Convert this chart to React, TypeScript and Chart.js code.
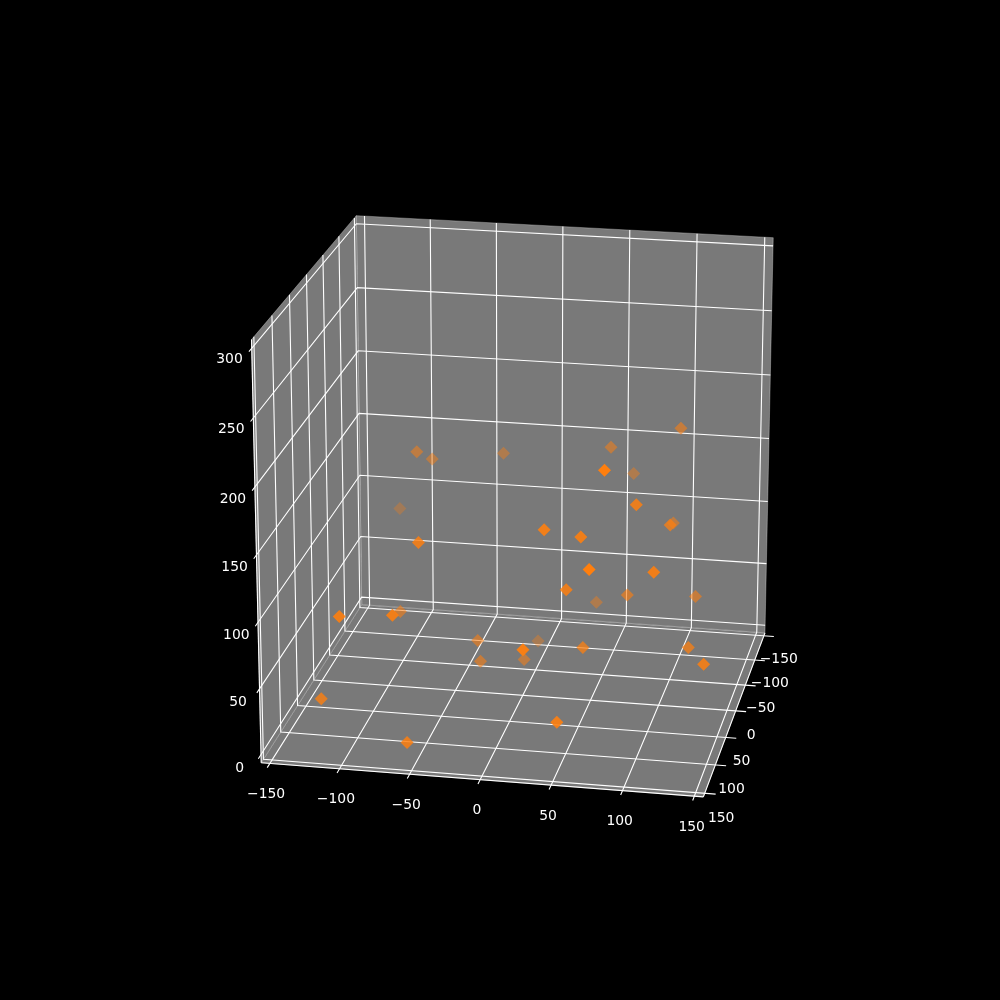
import React, { useEffect, useRef } from "react";
import { Chart, registerables } from "chart.js";
Chart.register(...registerables);

const xTicks = [-150, -100, -50, 0, 50, 100, 150];
const yTicks = [-150, -100, -50, 0, 50, 100, 150];
const zTicks = [0, 50, 100, 150, 200, 250, 300];
const pointX = [-85, -78, -31, -112, -54, 35, 53, 80, 64, 105, 93, 101, 111, 60, 74, 111, 49, 43, 78, 123, -100, -64, -85, -29, -26, 29, 1, -1, 56, 129, 146, -118, -53, 52];
const pointY = [-35, -55, -86, -97, 103, 104, -63, 122, -99, -57, 66, -53, 27, 100, 146, 99, 95, -63, 10, -19, 150, 143, 25, 21, 26, 150, 0, -65, 67, 53, 94, 133, 150, 146];
const pointZ = [165, 153, 150, 97, 147, 163, 168, 216, 136, 188, 172, 116, 144, 158, 152, 135, 116, 46, 82, 73, 106, 107, 63, 43, 29, 91, 22, 11, 62, 62, 67, 36, 15, 37];

const ELEV = 19.6, AZIM = -79.1, DIST = 10, L = 1.05, LZ = 1.042;
const CX = 522.8, CY = 494.5, S = 770 / 0.185;
const X0 = -156.25, X1 = 156.25, Z0 = -6.25, Z1 = 306.25;
const TICK = 7.6;
const el = (ELEV * Math.PI) / 180, az = (AZIM * Math.PI) / 180;
const w = [Math.cos(el) * Math.cos(az), Math.cos(el) * Math.sin(az), Math.sin(el)];
const uL = Math.hypot(w[0], w[1]);
const u = [-w[1] / uL, w[0] / uL, 0];
const v = [w[1] * u[2] - w[2] * u[1], w[2] * u[0] - w[0] * u[2], w[0] * u[1] - w[1] * u[0]];
const dot = (a: number[], b: number[]) => a[0] * b[0] + a[1] * b[1] + a[2] * b[2];
function view(x: number, y: number, z: number) {
  const p = [((x - X0) / (X1 - X0) - 0.5) * L, ((X1 - y) / (X1 - X0) - 0.5) * L, ((z - Z0) / (Z1 - Z0) - 0.5) * LZ];
  const d = [p[0] - DIST * w[0], p[1] - DIST * w[1], p[2] - DIST * w[2]];
  return [dot(d, u), dot(d, v), dot(d, w)];
}
function project(x: number, y: number, z: number) {
  const [a, b, c] = view(x, y, z);
  return { x: CX + (a / -c) * S, y: CY - (b / -c) * S };
}
const line = (pts: number[][], color: string, width: number) => ({
  data: pts.map((p) => project(p[0], p[1], p[2])), showLine: true, pointRadius: 0, borderColor: color, borderWidth: width, fill: false as any, order: 5,
});
const pane = (pts: number[][], color: string) => ({
  data: pts.map((p) => project(p[0], p[1], p[2])), showLine: true, pointRadius: 0, borderColor: "rgba(255,255,255,0.3)", borderWidth: 1, backgroundColor: color, fill: "shape" as any, order: 10,
});

export default function App() {
  const ref = useRef<HTMLCanvasElement>(null);
  useEffect(() => {
    document.body.style.margin = "0";
    document.body.style.background = "#000";
    const datasets: any[] = [
      pane([[X0, X0, Z0], [X0, X1, Z0], [X0, X1, Z1], [X0, X0, Z1], [X0, X0, Z0]], "#797979"),
      pane([[X0, X0, Z0], [X1, X0, Z0], [X1, X0, Z1], [X0, X0, Z1], [X0, X0, Z0]], "#797979"),
      pane([[X0, X0, Z0], [X1, X0, Z0], [X1, X1, Z0], [X0, X1, Z0], [X0, X0, Z0]], "#797979"),
    ];
    for (const t of xTicks) datasets.push(line([[t, X1 + TICK, Z0], [t, X0, Z0], [t, X0, Z1]], "#fff", 1.1));
    for (const t of yTicks) datasets.push(line([[X1 + TICK, t, Z0], [X0, t, Z0], [X0, t, Z1]], "#fff", 1.1));
    for (const t of zTicks) datasets.push(line([[X0, X1 + TICK, t], [X0, X0, t], [X1, X0, t]], "#fff", 1.1));
    datasets.push(line([[X0, X1, Z0], [X1, X1, Z0]], "#fff", 1.1));
    datasets.push(line([[X1, X1, Z0], [X1, X0, Z0]], "#fff", 1.1));
    datasets.push(line([[X0, X1, Z0], [X0, X1, Z1]], "#fff", 1.1));
    const idx = pointX.map((_, i) => i);
    const depth = idx.map((i) => -view(pointX[i], pointY[i], pointZ[i])[2]);
    const dMin = Math.min(...depth), dMax = Math.max(...depth);
    idx.sort((a, b) => depth[b] - depth[a]);
    datasets.push({
      data: idx.map((i) => project(pointX[i], pointY[i], pointZ[i])),
      pointStyle: "rectRot", pointRadius: 6.5, pointBorderWidth: 0,
      pointBackgroundColor: idx.map((i) => `rgba(255,127,14,${(1 - (0.7 * (depth[i] - dMin)) / (dMax - dMin)).toFixed(3)})`),
      order: 0,
    });
    const labels = {
      id: "labels",
      afterDatasetsDraw(c: any) {
        const g = c.ctx;
        const put = (s: number, p: { x: number; y: number }) => {
          g.fillText(String(s).replace("-", "\u2212"), c.scales.x.getPixelForValue(p.x), c.scales.y.getPixelForValue(p.y));
        };
        g.save();
        g.fillStyle = "#fff";
        g.font = '13.9px "DejaVu Sans"';
        g.textAlign = "center";
        g.textBaseline = "middle";
        xTicks.forEach((t) => put(t, project(t + 0.7, X1 + 15, Z0 - 17)));
        yTicks.forEach((t) => put(t, project(X1 + 11.7, t, Z0 - 18)));
        zTicks.forEach((t) => put(t, project(X0 - 8.5, X1 + 26.7, t)));
        g.restore();
      },
    };
    const bg = { id: "bg", beforeDraw(c: any) { c.ctx.save(); c.ctx.fillStyle = "#000"; c.ctx.fillRect(0, 0, 1000, 1000); c.ctx.restore(); } };
    const chart = new Chart(ref.current!, {
      type: "scatter",
      data: { datasets },
      options: {
        animation: false, responsive: false, devicePixelRatio: 1,
        layout: { padding: 0, autoPadding: false },
        plugins: { legend: { display: false }, tooltip: { enabled: false } },
        elements: { line: { tension: 0 } },
        scales: { x: { type: "linear", min: 0, max: 1000, display: false }, y: { type: "linear", min: 0, max: 1000, reverse: true, display: false } },
      },
      plugins: [bg, labels],
    });
    return () => chart.destroy();
  }, []);
  return <canvas ref={ref} width={1000} height={1000} style={{ display: "block", width: 1000, height: 1000 }} />;
}
